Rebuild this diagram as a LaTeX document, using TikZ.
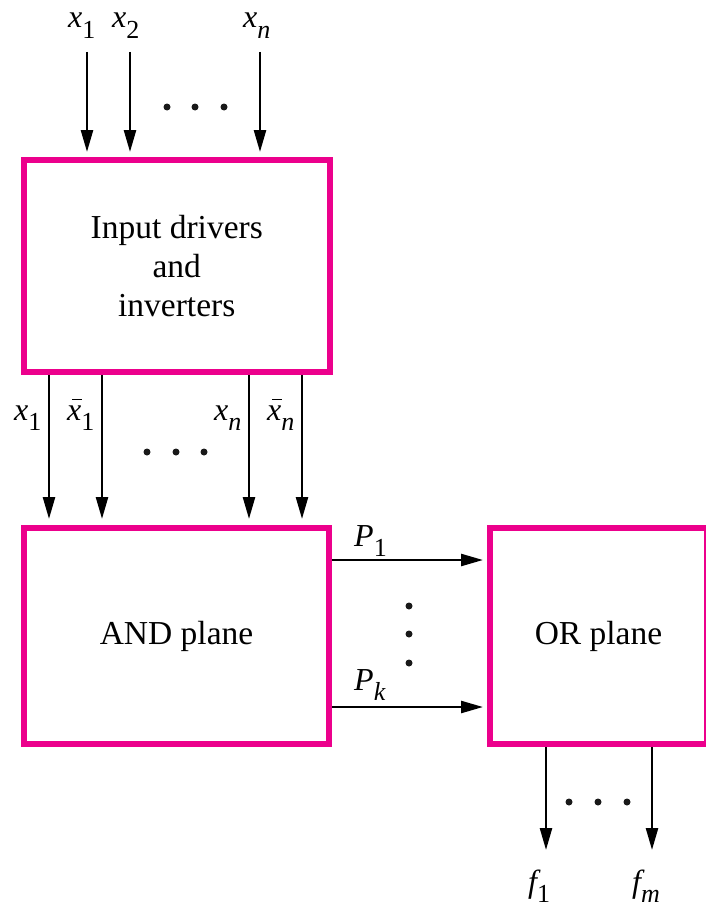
\documentclass[tikz,border=0pt]{standalone}
\usepackage{fontspec}
\setmainfont{Liberation Serif}
\usetikzlibrary{arrows.meta}
\definecolor{plamag}{RGB}{236,0,140}
\newcommand{\mainv}[1]{{\fontsize{32}{32}\selectfont\itshape #1}}
\newcommand{\subv}[1]{\raisebox{-10pt}{\fontsize{26}{26}\selectfont #1}}
\newcommand{\vsub}[2]{\mainv{#1}\subv{#2}}
\newcommand{\xbarsym}{{\fontsize{32}{32}\selectfont\itshape\rlap{\hspace{5pt}\rule[20pt]{9.5pt}{1.3pt}}x}}
\begin{document}
\begin{tikzpicture}[x=1pt,y=-1pt,
  box/.style={draw=plamag, line width=6pt, inner sep=0pt, align=center,
    font=\fontsize{33.5}{39}\selectfont},
  arr/.style={line width=2.5pt, -{Triangle[length=22pt,width=12pt]}},
  dotc/.style={circle, fill=black!90, inner sep=0pt, minimum size=7pt},
  lab/.style={inner sep=0pt, anchor=base west}]
\useasboundingbox (0,0) rectangle (706,907);

% boxes
\node[box, minimum width=305.5pt, minimum height=212pt] (drv) at (176.75,266) {Input drivers\\and\\inverters};
\node[box, minimum width=305pt, minimum height=216pt] (andp) at (176.5,636) {AND plane};
\node[box, minimum width=217pt, minimum height=216pt] (orp) at (598.5,636) {OR plane};

% input arrows
\coordinate (i1) at (87,52);
\coordinate (i2) at (130,52);
\coordinate (i3) at (260,52);
\foreach \c in {i1,i2,i3} \draw[arr, shorten >=5pt] (\c) -- (\c |- drv.north);

\node[lab] (li1) at (68,28) {\vsub{x}{1}};
\node[lab] (li2) at (112,28) {\vsub{x}{2}};
\node[lab] (li3) at (243,28) {\vsub{x}{\itshape n}};
\node[dotc] (d1) at (167,107) {};
\node[dotc] (d2) at (195,107) {};
\node[dotc] (d3) at (224,107) {};

% middle arrows
\coordinate (m1) at (49,0);
\coordinate (m2) at (102,0);
\coordinate (m3) at (249,0);
\coordinate (m4) at (302,0);
\foreach \c in {m1,m2,m3,m4} \draw[arr, shorten >=6pt] (\c |- drv.south) -- (\c |- andp.north);

\node[lab] (lm1) at (14,420) {\vsub{x}{1}};
\node[lab] (lm2) at (67,420) {\xbarsym\subv{1}};
\node[lab] (lm3) at (214,420) {\vsub{x}{\itshape n}};
\node[lab] (lm4) at (267,420) {\xbarsym\subv{\itshape n}};
\node[dotc] (d4) at (147,452) {};
\node[dotc] (d5) at (176,452) {};
\node[dotc] (d6) at (204,452) {};

% product lines
\coordinate (p1) at (0,560);
\coordinate (pk) at (0,707);
\foreach \c in {p1,pk} \draw[arr, shorten >=4pt] (\c -| andp.east) -- (\c -| orp.west);
\node[lab] (lp1) at (354,546) {\vsub{P}{1}};
\node[lab] (lpk) at (354,690) {\vsub{P}{\itshape k}};
\node[dotc] (d7) at (409,606) {};
\node[dotc] (d8) at (409,634) {};
\node[dotc] (d9) at (409,663) {};

% outputs
\coordinate (f1) at (546,850);
\coordinate (fm) at (652,850);
\foreach \c in {f1,fm} \draw[arr] (\c |- orp.south) -- (\c);
\node[lab] (lf1) at (528,892) {\vsub{f}{1}};
\node[lab] (lfm) at (632,892) {\vsub{f}{\itshape m}};
\node[dotc] (d10) at (569,802) {};
\node[dotc] (d11) at (598,802) {};
\node[dotc] (d12) at (627,802) {};
\end{tikzpicture}
\end{document}
